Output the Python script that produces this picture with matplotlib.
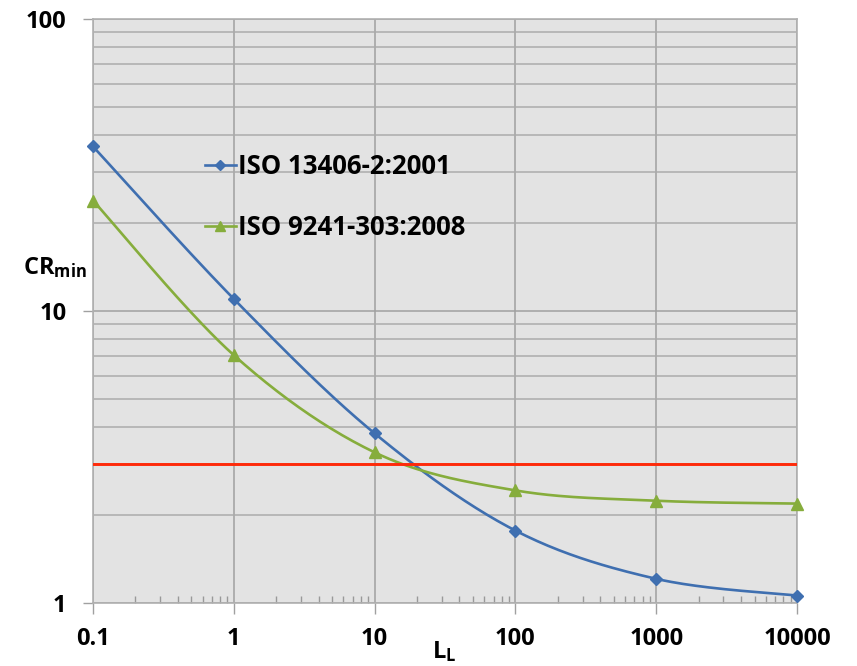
import numpy as np
import matplotlib
matplotlib.use('Agg')
import matplotlib.pyplot as plt
from matplotlib.ticker import LogLocator, NullFormatter, FixedLocator, FixedFormatter

plt.rcParams['font.family'] = ['Open Sans', 'DejaVu Sans']
plt.rcParams['font.weight'] = 'bold'
plt.rcParams['mathtext.fontset'] = 'custom'
plt.rcParams['mathtext.rm'] = 'Open Sans:bold'
plt.rcParams['mathtext.bf'] = 'Open Sans:bold'
plt.rcParams['mathtext.it'] = 'Open Sans:bold'

# Data
luminance = [0.1, 1, 10, 100, 1000, 10000]
cr_iso13406 = [36.6, 11.0, 3.81, 1.77, 1.21, 1.06]
cr_iso9241 = [23.9, 7.06, 3.28, 2.43, 2.24, 2.19]
cr_limit = 3.0
label_13406 = 'ISO 13406-2:2001'
label_9241 = 'ISO 9241-303:2008'
x_ticks = [0.1, 1, 10, 100, 1000, 10000]
x_ticklabels = ['0.1', '1', '10', '100', '1000', '10000']
y_ticks = [1, 10, 100]
y_ticklabels = ['1', '10', '100']


def smooth(xs, ys, n=40):
    # Excel-like smoothed line: Catmull-Rom Bezier in log-log space
    lx = np.log10(xs)
    ly = np.log10(ys)
    pts = np.column_stack([lx, ly])
    out = []
    for i in range(len(pts) - 1):
        p0 = pts[i - 1] if i > 0 else pts[i]
        p1 = pts[i]
        p2 = pts[i + 1]
        p3 = pts[i + 2] if i + 2 < len(pts) else pts[i + 1]
        c1 = p1 + (p2 - p0) / 6
        c2 = p2 - (p3 - p1) / 6
        t = np.linspace(0, 1, n)[:, None]
        seg = ((1 - t) ** 3) * p1 + 3 * ((1 - t) ** 2) * t * c1 + 3 * (1 - t) * t ** 2 * c2 + t ** 3 * p2
        out.append(seg)
    out = np.vstack(out)
    return 10 ** out[:, 0], 10 ** out[:, 1]


fig = plt.figure(figsize=(8.57, 6.66), dpi=100)
ax = fig.add_axes([93 / 857, 63 / 666, 704 / 857, 584 / 666])
ax.set_facecolor('#e3e3e3')
ax.set_xscale('log')
ax.set_yscale('log')
ax.set_xlim(0.1, 10000)
ax.set_ylim(1, 100)

blue = '#3f6fb0'
green = '#86ad3c'

sx, sy = smooth(luminance, cr_iso13406)
ax.plot(sx, sy, color=blue, lw=1.9, zorder=3)
ax.plot(luminance, cr_iso13406, ls='none', marker='D', ms=6.5, color=blue, zorder=4, clip_on=False)
sx, sy = smooth(luminance, cr_iso9241)
ax.plot(sx, sy, color=green, lw=1.9, zorder=3)
ax.plot(luminance, cr_iso9241, ls='none', marker='^', ms=8, color=green, zorder=4, clip_on=False)

ax.axhline(cr_limit, color='#ff2a0a', lw=2.1, zorder=3)

# legend handles
ax.plot([], [], color=blue, lw=1.9, marker='D', ms=5, label=label_13406)
ax.plot([], [], color=green, lw=1.9, marker='^', ms=7, label=label_9241)
h, l = ax.get_legend_handles_labels()
leg = ax.legend(h, l, loc='upper left', bbox_to_anchor=(0.126, 0.81), frameon=False,
                handlelength=1.2, handletextpad=0.08, labelspacing=1.32,
                prop={'family': 'Open Sans', 'weight': 'bold', 'size': 18.5})

# grid
ax.xaxis.set_major_locator(FixedLocator(x_ticks))
ax.xaxis.set_major_formatter(FixedFormatter(x_ticklabels))
ax.xaxis.set_minor_locator(LogLocator(base=10, subs=np.arange(2, 10)))
ax.xaxis.set_minor_formatter(NullFormatter())
ax.yaxis.set_major_locator(FixedLocator(y_ticks))
ax.yaxis.set_major_formatter(FixedFormatter(y_ticklabels))
ax.yaxis.set_minor_locator(LogLocator(base=10, subs=np.arange(2, 10)))
ax.yaxis.set_minor_formatter(NullFormatter())

ax.grid(True, which='major', axis='both', color='#a0a0a0', lw=1.1, zorder=1)
ax.grid(True, which='minor', axis='y', color='#ababab', lw=1.1, zorder=1)
ax.set_axisbelow(True)

ax.tick_params(axis='x', which='major', direction='out', length=8, width=1, color='#a0a0a0',
               labelsize=17, pad=9)
ax.tick_params(axis='x', which='minor', direction='in', length=5, width=1, color='#999999')
ax.tick_params(axis='y', which='major', direction='out', length=7, width=1, color='#a0a0a0',
               labelsize=17, pad=12)
ax.tick_params(axis='y', which='minor', length=0)
for lab in ax.get_xticklabels() + ax.get_yticklabels():
    lab.set_fontweight('bold')

for s in ax.spines.values():
    s.set_color('#b0b0b0')
    s.set_linewidth(1.2)

fig.text(55 / 857, 1 - 268 / 666, r'$\mathrm{CR_{min}}$', ha='center', va='center', fontsize=17)
fig.text(444 / 857, 1 - 652 / 666, r'$\mathrm{L_L}$', ha='center', va='center', fontsize=17)

fig.savefig('out.png', dpi=100)
